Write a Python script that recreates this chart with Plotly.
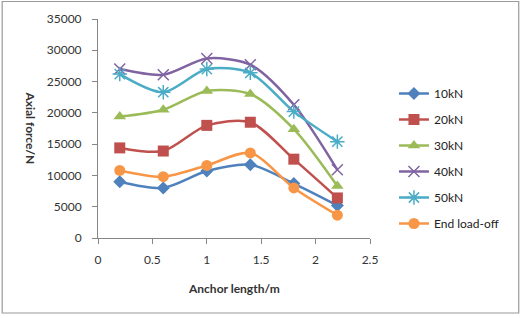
import plotly.graph_objects as go

x_vals = [0.2, 0.6, 1.0, 1.4, 1.8, 2.2]
s10 = [9000, 8000, 10700, 11700, 8700, 5200]
s20 = [14400, 13900, 18000, 18500, 12600, 6400]
s30 = [19400, 20500, 23500, 23000, 17400, 8300]
s40 = [27000, 26100, 28700, 27700, 21300, 10900]
s50 = [26200, 23300, 27000, 26400, 20200, 15400]
send = [10800, 9800, 11600, 13600, 8000, 3650]
names = ["10kN", "20kN", "30kN", "40kN", "50kN", "End load-off"]
series = [s10, s20, s30, s40, s50, send]
y_ticks = [0, 5000, 10000, 15000, 20000, 25000, 30000, 35000]
x_ticks = [0, 0.5, 1, 1.5, 2, 2.5]
colors = ["#4F81BD", "#C0504D", "#9BBB59", "#8064A2", "#4BACC6", "#F79646"]
symbols = ["diamond", "square", "triangle-up", "x-thin-open", "asterisk-open", "circle"]
sizes = [10, 11, 11, 11, 12, 11]

W, H = 523, 318
L, R, T, B = 97.5, 153, 19, 80
pw, ph = W - L - R, H - T - B

fig = go.Figure()
for i, (n, s) in enumerate(zip(names, series)):
    open_sym = symbols[i].endswith("open")
    fig.add_trace(go.Scatter(
        x=x_vals, y=s, name=n, mode="lines+markers",
        line=dict(color=colors[i], width=2.5, shape="spline", smoothing=0.8),
        marker=dict(symbol=symbols[i], size=sizes[i], color=colors[i],
                    line=dict(color=colors[i], width=1.5 if open_sym else 0)),
        legendgroup=n,
    ))

axis_color = "#868686"
font_family = "Lato, 'Open Sans', sans-serif"
fig.update_layout(
    width=W, height=H,
    margin=dict(l=L, r=R, t=T, b=B, pad=0),
    paper_bgcolor="white", plot_bgcolor="white",
    font=dict(family=font_family, size=12, color="#222"),
    showlegend=True,
    legend=dict(x=(394 - L) / pw, y=(238 - 79) / ph, xanchor="left", yanchor="top",
                traceorder="grouped", tracegroupgap=7, itemwidth=30,
                font=dict(size=12, family=font_family, color="#222"),
                bgcolor="rgba(0,0,0,0)"),
    xaxis=dict(range=[0, 2.5], tickvals=x_ticks,
               ticktext=[f"{v:g}" for v in x_ticks],
               showgrid=False, zeroline=False, showline=True, linecolor=axis_color, linewidth=1,
               ticks="outside", ticklen=5, tickcolor=axis_color, ticklabelstandoff=6,
               tickfont=dict(size=12, color="#333")),
    yaxis=dict(range=[0, 35000], tickvals=y_ticks, ticktext=[str(v) for v in y_ticks],
               showgrid=False, zeroline=False, showline=True, linecolor=axis_color, linewidth=1,
               ticks="outside", ticklen=5, tickcolor=axis_color, ticklabelstandoff=8,
               tickfont=dict(size=12, color="#333")),
    annotations=[
        dict(text="<b>Anchor length/m</b>", xref="paper", yref="paper",
             x=(234 - L) / pw, y=(238 - 288) / ph, xanchor="center", yanchor="middle",
             showarrow=False, font=dict(size=12, color="#333")),
        dict(text="<b>Axial force/N</b>", xref="paper", yref="paper",
             x=(30 - L) / pw, y=(238 - 128) / ph, xanchor="center", yanchor="middle",
             showarrow=False, textangle=90, font=dict(size=12, color="#333")),
    ],
    shapes=[dict(type="rect", xref="paper", yref="paper",
                 x0=(1.5 - L) / pw, x1=(519 - L) / pw,
                 y0=(238 - 313) / ph, y1=(238 - 1.5) / ph,
                 line=dict(color="#9a9a9a", width=1.2), fillcolor="rgba(0,0,0,0)", layer="below")],
)

fig.write_html("out.html")
